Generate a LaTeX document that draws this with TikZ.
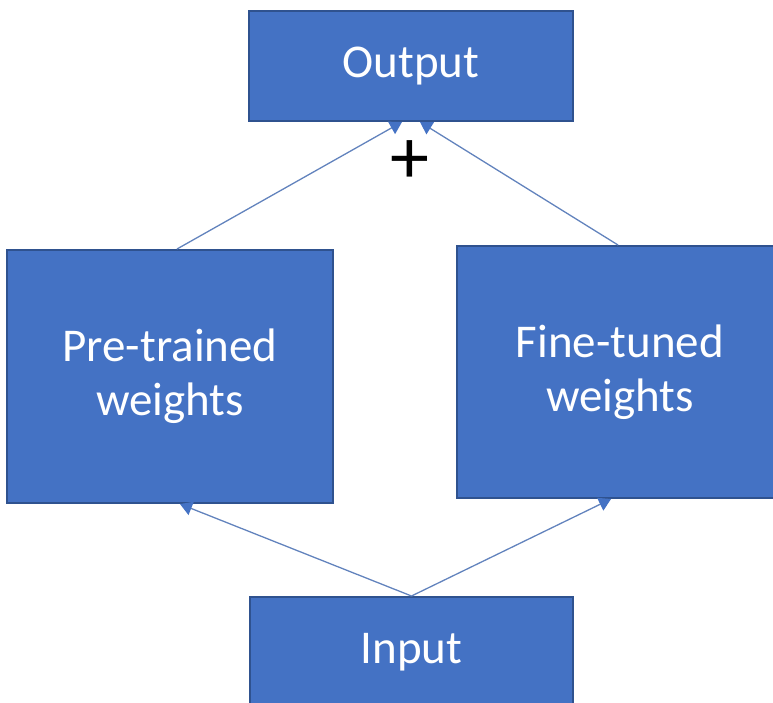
\documentclass[tikz,border=0pt]{standalone}
\usepackage{fontspec}
\setmainfont{Carlito}
\usetikzlibrary{arrows.meta}
\definecolor{boxfill}{HTML}{4472C4}
\definecolor{boxedge}{HTML}{2F528F}
\definecolor{linkline}{HTML}{6283BD}
\begin{document}
\begin{tikzpicture}[x=1pt,y=-1pt,
  blockbox/.style={draw=boxedge,line width=2pt,fill=boxfill,text=white,
    inner sep=0pt,align=center,font=\fontsize{47}{54}\selectfont},
  link/.style={draw=linkline,line width=1.3pt,
    -{Triangle[width=14pt,length=12pt,color=boxfill]}}]
  \useasboundingbox (0,0) rectangle (773,702);
  \begin{scope}
    \clip (0,0) rectangle (773,702);
    \node[blockbox,minimum width=324pt,minimum height=110pt] (out) at (411,66) {Output};
    \node[blockbox,minimum width=326pt,minimum height=253pt] (pre) at (170,376.5) {Pre-trained\\weights};
    \node[blockbox,minimum width=326pt,minimum height=252pt] (fine) at (620,372) {Fine-tuned\\weights};
    \node[blockbox,minimum width=323pt,minimum height=110pt] (inp) at (411.5,652) {Input};
  \end{scope}
  \node[font=\fontsize{78}{78}\selectfont,inner sep=0pt] (plus) at (410,162) {+};
  \draw[link] ([xshift=7pt]pre.north) -- ([xshift=-9pt]out.south);
  \draw[link] ([xshift=-2pt]fine.north) -- ([xshift=9pt]out.south);
  \draw[link] (inp.north) -- ([xshift=10pt]pre.south);
  \draw[link] (inp.north) -- ([xshift=-9pt]fine.south);
\end{tikzpicture}
\end{document}
